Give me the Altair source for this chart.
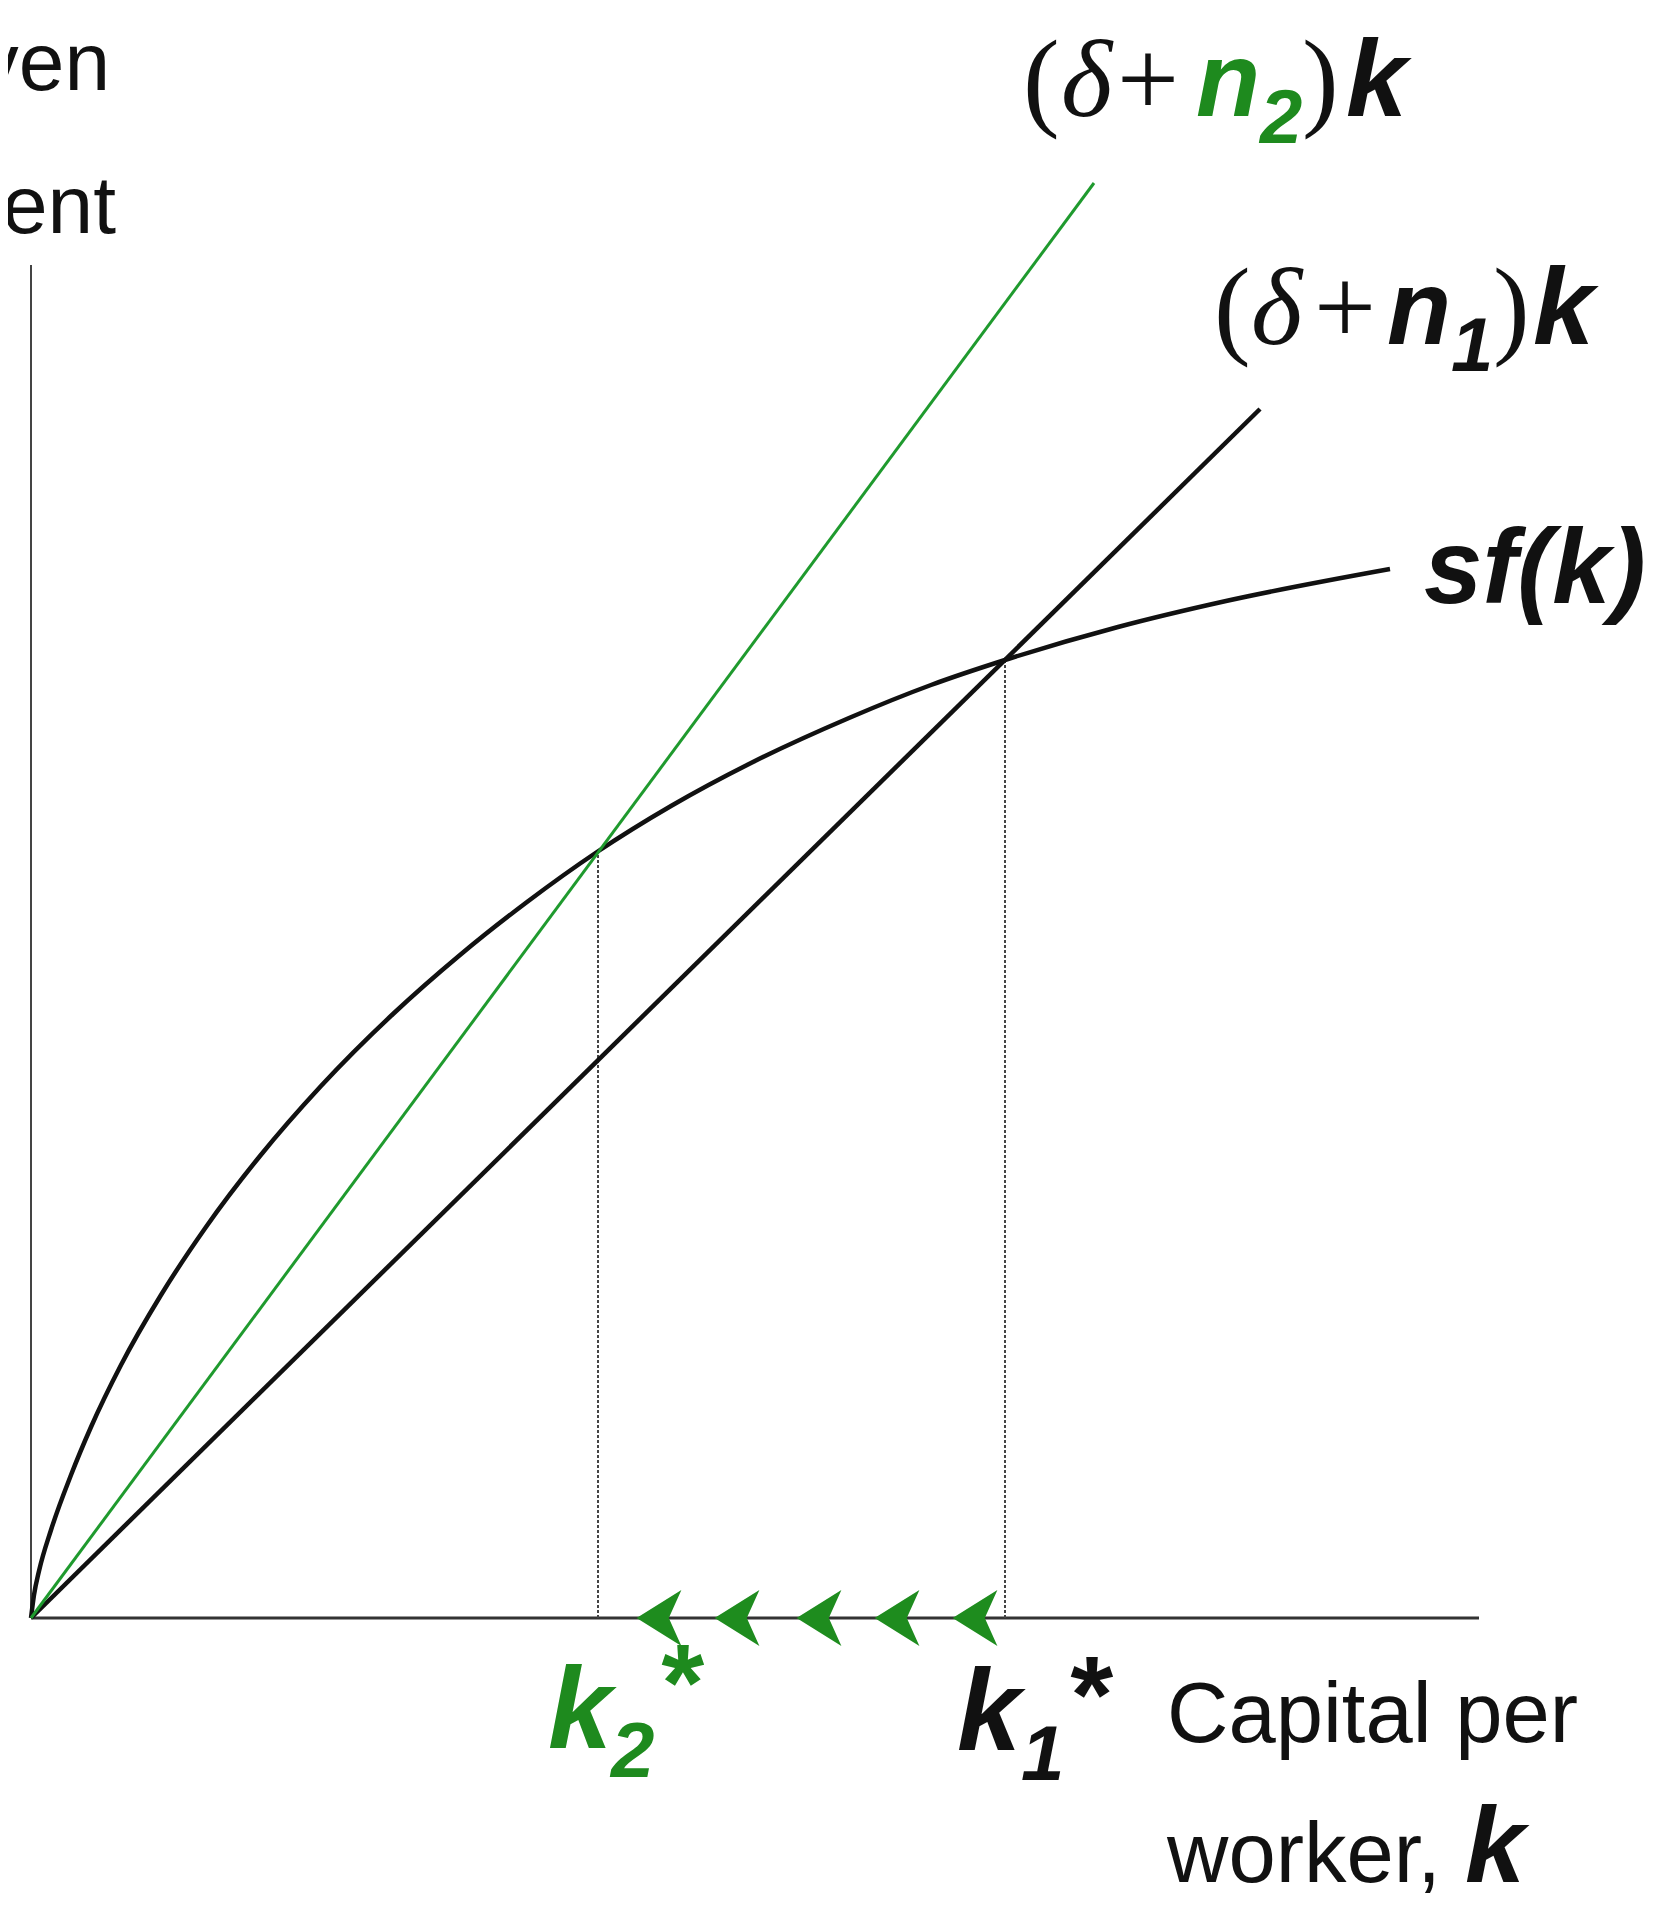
import altair as alt
import pandas as pd

# ---------------- data (k and y in arbitrary units) -------------
# saving curve sf(k)
sf_k = [0, 0.03, 0.08, 0.20, 0.40, 0.60, 0.90, 1.30, 1.75, 2.29, 2.90, 3.62, 4.29,
        4.96, 5.66, 6.40, 7.20, 8.18, 9.00, 9.74, 10.87, 11.95, 13.59]
sf_y = [0, 0.23, 0.47, 0.88, 1.43, 1.91, 2.53, 3.23, 3.91, 4.62, 5.32, 6.04, 6.63,
        7.16, 7.66, 8.12, 8.55, 9.00, 9.33, 9.58, 9.91, 10.17, 10.49]

# break-even lines (start and end points)
n2_k = [0, 10.63]
n2_y = [0, 14.35]
n1_k = [0, 12.29]
n1_y = [0, 12.09]

# steady states k2*, k1*
star_k = [5.67, 9.74]
star_y = [7.66, 9.58]

# axes extents
x_axis_end = 14.48
y_axis_end = 13.53

# arrow (chevron) positions on the k axis
arrow_k = [6.28, 7.06, 7.88, 8.66, 9.44]

GREEN_LINE = "#1f9a2e"
GREEN_TXT = "#1e8a1e"
BLACK = "#111111"

# label pieces: text, x, y (baseline), font size, colour
bold_txt = ["n", "2", "k", "n", "1", "k", "sf(k)", "k", "2", "*", "k", "1", "*", "k"]
bold_x = [11.65, 12.29, 13.15, 13.56, 14.20, 15.02, 13.93, 5.17, 5.80, 6.26, 9.26, 9.90, 10.35, 14.34]
bold_y = [15.02, 14.75, 15.02, 12.74, 12.47, 12.74, 10.15, -1.30, -1.59, -1.02, -1.32, -1.62, -1.14, -2.64]
bold_size = [105, 76, 110, 105, 76, 110, 105, 115, 78, 110, 115, 78, 110, 108]
bold_col = [GREEN_TXT, GREEN_TXT, BLACK, BLACK, BLACK, BLACK, BLACK,
            GREEN_TXT, GREEN_TXT, GREEN_TXT, BLACK, BLACK, BLACK, BLACK]

serif_txt = ["(", "+", ")", "(", "+", ")"]
serif_x = [9.92, 10.86, 12.71, 11.83, 12.83, 14.62]
serif_y = [15.02, 15.02, 15.02, 12.74, 12.74, 12.74]

delta_txt = ["δ", "δ"]
delta_x = [10.30, 12.20]
delta_y = [15.02, 12.74]

plain_txt = ["Capital per", "worker,"]
plain_x = [11.36, 11.36]
plain_y = [-1.24, -2.64]

cut_txt = ["ven", "ent"]
cut_x = [0.79, 0.85]
cut_y = [15.28, 13.85]

# ---------------- chart -------------------------------------------------------------
XS = alt.Scale(domain=[-0.23, 16.22], nice=False, zero=False)
YS = alt.Scale(domain=[-2.90, 16.10], nice=False, zero=False)

SANS = "Liberation Sans, Arial, Helvetica, sans-serif"
SERIF = "Liberation Serif, Times New Roman, serif"


def X(f):
    return alt.X(f, type="quantitative", scale=XS, axis=None)


def Y(f):
    return alt.Y(f, type="quantitative", scale=YS, axis=None)


sf_df = pd.DataFrame({"k": sf_k, "y": sf_y})
n2_df = pd.DataFrame({"k": n2_k, "y": n2_y})
n1_df = pd.DataFrame({"k": n1_k, "y": n1_y})
star_df = pd.DataFrame({"k": star_k, "y": star_y, "y0": [0, 0]})
axis_df = pd.DataFrame({"x0": [0.0], "x1": [x_axis_end], "y0": [0.0], "y1": [y_axis_end]})
arrow_df = pd.DataFrame({"k": arrow_k, "y": [0.0] * len(arrow_k)})

x_axis = alt.Chart(axis_df).mark_rule(color="#333333", strokeWidth=3).encode(
    x=X("x0"), x2="x1", y=Y("y0"))
y_axis = alt.Chart(axis_df).mark_rule(color="#444444", strokeWidth=2).encode(
    x=X("x0"), y=Y("y0"), y2="y1")

dotted = alt.Chart(star_df).mark_rule(color="#444444", strokeWidth=2, strokeDash=[3, 2]).encode(
    x=X("k"), y=Y("y0"), y2="y")

sf_line = alt.Chart(sf_df).mark_line(color=BLACK, strokeWidth=4.5, interpolate="monotone").encode(
    x=X("k"), y=Y("y"), order="k:Q")
n1_line = alt.Chart(n1_df).mark_line(color=BLACK, strokeWidth=4.5).encode(x=X("k"), y=Y("y"))
n2_line = alt.Chart(n2_df).mark_line(color=GREEN_LINE, strokeWidth=3).encode(x=X("k"), y=Y("y"))

arrows = alt.Chart(arrow_df).mark_point(
    shape="M-0.8,0 L0.8,-1 L0.35,0 L0.8,1 Z", filled=True, opacity=1,
    color="#1e8c1e", size=3136, strokeWidth=0).encode(x=X("k"), y=Y("y"))

bold_df = pd.DataFrame({"t": bold_txt, "x": bold_x, "y": bold_y, "s": bold_size, "c": bold_col})
bold = alt.Chart(bold_df).mark_text(
    align="left", baseline="alphabetic", font=SANS, fontStyle="italic", fontWeight="bold").encode(
    x=X("x"), y=Y("y"), text="t:N",
    size=alt.Size("s:Q", scale=None), color=alt.Color("c:N", scale=None))

serif_df = pd.DataFrame({"t": serif_txt, "x": serif_x, "y": serif_y})
serif = alt.Chart(serif_df).mark_text(
    align="left", baseline="alphabetic", font=SERIF, fontSize=110, color=BLACK).encode(
    x=X("x"), y=Y("y"), text="t:N")

delta_df = pd.DataFrame({"t": delta_txt, "x": delta_x, "y": delta_y})
delta = alt.Chart(delta_df).mark_text(
    align="left", baseline="alphabetic", font=SERIF, fontStyle="italic", fontSize=110, color=BLACK).encode(
    x=X("x"), y=Y("y"), text="t:N")

plain_df = pd.DataFrame({"t": plain_txt, "x": plain_x, "y": plain_y})
plain = alt.Chart(plain_df).mark_text(
    align="left", baseline="alphabetic", font=SANS, fontSize=85, color=BLACK).encode(
    x=X("x"), y=Y("y"), text="t:N")

cut_df = pd.DataFrame({"t": cut_txt, "x": cut_x, "y": cut_y})
cut = alt.Chart(cut_df).mark_text(
    align="right", baseline="alphabetic", font=SANS, fontSize=82, color=BLACK).encode(
    x=X("x"), y=Y("y"), text="t:N")

chart = alt.layer(
    y_axis, x_axis, dotted, sf_line, n1_line, n2_line, arrows,
    serif, delta, bold, plain, cut
).properties(
    width=1645, height=1900,
    autosize=alt.AutoSizeParams(type="none"),
    padding=0, background="white"
).configure_view(stroke=None)

chart.save("out.html", embed_options={"renderer": "svg", "actions": False})
